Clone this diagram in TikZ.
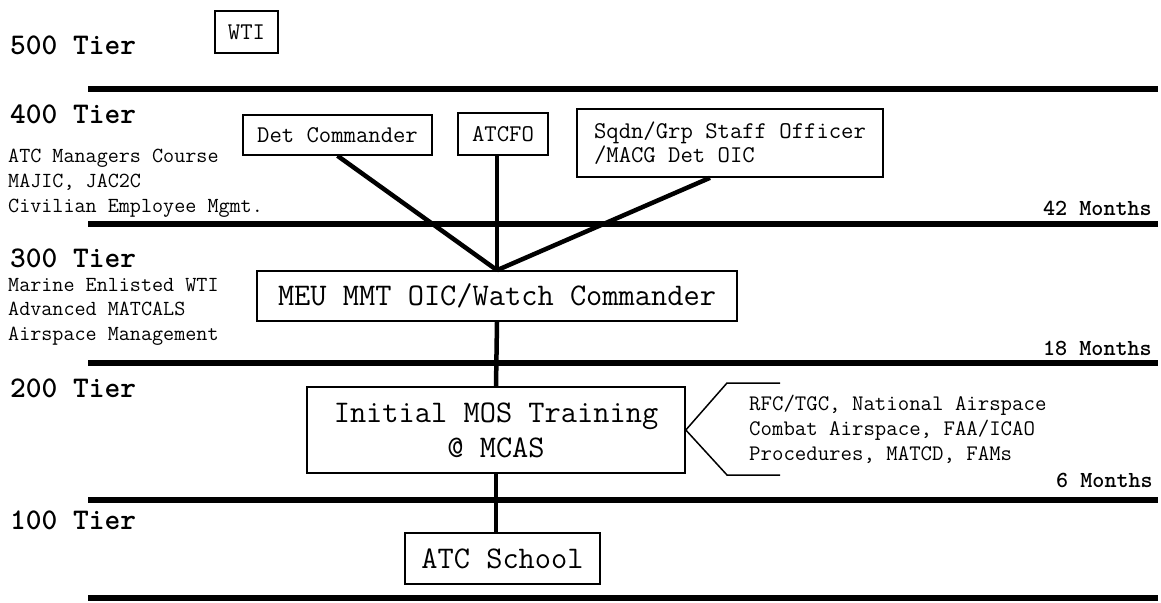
\documentclass[tikz,border=0pt]{standalone}
\usepackage{fontspec}
\usetikzlibrary{calc}
\tikzset{
  tier/.style={anchor=base west, inner sep=0pt, font=\ttfamily\bfseries\fontsize{30}{36}\selectfont},
  note/.style={anchor=base west, inner sep=0pt, font=\ttfamily\fontsize{21.5}{25}\selectfont},
  bnote/.style={anchor=base west, inner sep=0pt, font=\ttfamily\fontsize{22.2}{25}\selectfont},
  months/.style={anchor=base east, inner sep=0pt, font=\ttfamily\bfseries\fontsize{23}{27}\selectfont},
  box/.style={draw, line width=1.6pt, inner sep=0pt, align=center},
  smallbox/.style={box, font=\ttfamily\fontsize{24}{23.5}\selectfont},
  bigbox/.style={box, font=\ttfamily\fontsize{31.5}{35}\selectfont},
  tierline/.style={line width=5.5pt},
  link/.style={line width=4.5pt},
  bracket/.style={line width=1.5pt, line join=miter},
}
\begin{document}
\begin{tikzpicture}[x=1pt,y=-1pt]
\useasboundingbox (0,0) rectangle (1161,602);

% tier lines
\draw[tierline] (88,89) -- (1158,89);
\draw[tierline] (88,224) -- (1158,224);
\draw[tierline] (88,363) -- (1158,363);
\draw[tierline] (88,500) -- (1158,500);
\draw[tierline] (88,598) -- (1158,598);

% tier labels
\node[tier] (t500) at (10,55) {500 Tier};
\node[tier] (t400) at (10,123) {400 Tier};
\node[tier] (t300) at (10,267) {300 Tier};
\node[tier] (t200) at (10,397) {200 Tier};
\node[tier] (t100) at (10,529) {100 Tier};

% notes
\node[note] (n4a) at (8,162) {ATC Managers Course};
\node[note] (n4b) at (8,187) {MAJIC, JAC2C};
\node[note] (n4c) at (8,212) {Civilian Employee Mgmt.};
\node[note] (n3a) at (8,291) {Marine Enlisted WTI};
\node[note] (n3b) at (8,315) {Advanced MATCALS};
\node[note] (n3c) at (8,340) {Airspace Management};

% months
\node[months] (m42) at (1152,215) {42 Months};
\node[months] (m18) at (1152,355) {18 Months};
\node[months] (m6) at (1153,487) {6 Months};

% boxes
\node[smallbox, minimum width=63pt, minimum height=42pt] (wti) at (246.5,32) {WTI};
\node[smallbox, minimum width=189pt, minimum height=40pt] (det) at (337.5,135) {Det Commander};
\node[smallbox, minimum width=90pt, minimum height=42pt] (atcfo) at (503,134) {ATCFO};
\node[smallbox, minimum width=306pt, minimum height=68pt, align=left] (sqdn) at (730,143) {Sqdn/Grp Staff Officer\\/MACG Det OIC};
\node[bigbox, minimum width=480pt, minimum height=50pt] (meu) at (497,296) {MEU MMT OIC/Watch Commander};
\node[bigbox, minimum width=378pt, minimum height=86pt] (init) at (496,430) {Initial MOS Training\\@ MCAS};
\node[bigbox, minimum width=195pt, minimum height=51pt] (school) at (502.5,558.5) {ATC School};

% connectors
\coordinate (sq) at ($(sqdn.south)+(-20,0)$);
\draw[link] (det.south) -- (meu.north);
\draw[link] (meu.north |- atcfo.south) -- (meu.north);
\draw[link] (sq) -- (meu.north);
\draw[link] (meu.south) -- (init.north);
\draw[link] (init.south) -- (init.south |- school.north);

% bracket
\draw[bracket] (780,383) -- (727,383) -- (init.east) -- (727,475) -- (780,475);
\node[bnote] (b1) at (749,410) {RFC/TGC, National Airspace};
\node[bnote] (b2) at (749,435) {Combat Airspace, FAA/ICAO};
\node[bnote] (b3) at (749,460) {Procedures, MATCD, FAMs};
\end{tikzpicture}
\end{document}
